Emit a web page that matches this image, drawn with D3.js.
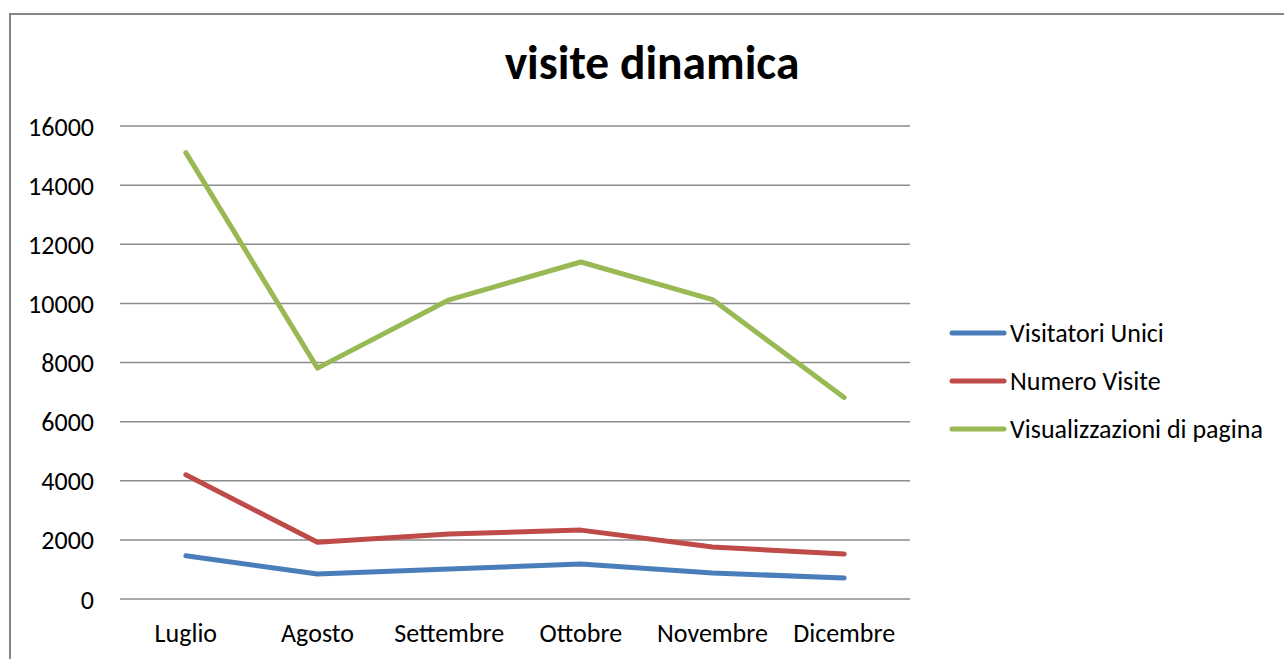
<!DOCTYPE html>
<html>
<head>
<meta charset="utf-8">
<script src="https://cdn.jsdelivr.net/npm/d3@7"></script>
<style>
  html, body { margin: 0; padding: 0; background: #fff; }
  svg { display: block; }
  text { font-family: Carlito, Calibri, Lato, "Open Sans", sans-serif; fill: #000; }
</style>
</head>
<body>
<svg id="chart" width="1284" height="659"></svg>
<script>
const title = "visite dinamica";
const categories = ["Luglio", "Agosto", "Settembre", "Ottobre", "Novembre", "Dicembre"];
const seriesNames = ["Visitatori Unici", "Numero Visite", "Visualizzazioni di pagina"];
const seriesColors = ["#4A7EBB", "#BE4B48", "#98B954"];
const visitatoriUnici = [1460, 845, 1015, 1180, 880, 710];
const numeroVisite = [4200, 1920, 2200, 2330, 1760, 1520];
const visualizzazioni = [15100, 7810, 10120, 11400, 10130, 6820];
const yTicks = [0, 2000, 4000, 6000, 8000, 10000, 12000, 14000, 16000];

const seriesValues = [visitatoriUnici, numeroVisite, visualizzazioni];

const svg = d3.select("#chart");

// outer frame
svg.append("rect")
  .attr("x", 10).attr("y", 14)
  .attr("width", 1290).attr("height", 660)
  .attr("fill", "none")
  .attr("stroke", "#868686")
  .attr("stroke-width", 2);

const plotLeft = 120, plotRight = 910, plotTop = 126, plotBottom = 599;

const x = d3.scaleBand().domain(categories).range([plotLeft, plotRight]).padding(0);
const y = d3.scaleLinear().domain([0, 16000]).range([plotBottom, plotTop]);

// gridlines
svg.append("g")
  .selectAll("line")
  .data(yTicks)
  .join("line")
  .attr("x1", plotLeft).attr("x2", plotRight)
  .attr("y1", d => y(d)).attr("y2", d => y(d))
  .attr("stroke", "#8c8c8c")
  .attr("stroke-width", 1.5);

// y axis labels
const yAxis = d3.axisLeft(y).tickValues(yTicks).tickSize(0).tickPadding(0).tickFormat(d3.format("d"));
const gy = svg.append("g").attr("transform", `translate(94,0)`).call(yAxis);
gy.select(".domain").remove();
gy.selectAll("text").style("font-size", "26px").attr("dy", "0.35em").style("fill", "#000");

// x axis labels
const xAxis = d3.axisBottom(x).tickSize(0).tickPadding(0);
const gx = svg.append("g").attr("transform", `translate(0,642)`).call(xAxis);
gx.select(".domain").remove();
gx.selectAll("text").style("font-size", "26px").attr("dy", "0").style("fill", "#000");

// lines
const line = d3.line()
  .x((d, i) => x(categories[i]) + x.bandwidth() / 2)
  .y(d => y(d));

svg.append("g")
  .selectAll("path")
  .data(seriesValues)
  .join("path")
  .attr("d", d => line(d))
  .attr("fill", "none")
  .attr("stroke", (d, i) => seriesColors[i])
  .attr("stroke-width", 5)
  .attr("stroke-linejoin", "round")
  .attr("stroke-linecap", "round");

// title
svg.append("text")
  .attr("x", 652).attr("y", 79)
  .attr("text-anchor", "middle")
  .style("font-size", "47.5px")
  .style("font-weight", "bold")
  .text(title);

// legend
const legendY = [333, 381, 429];
const lg = svg.append("g");
seriesNames.forEach((name, i) => {
  lg.append("line")
    .attr("x1", 952).attr("x2", 1004)
    .attr("y1", legendY[i]).attr("y2", legendY[i])
    .attr("stroke", seriesColors[i])
    .attr("stroke-width", 5)
    .attr("stroke-linecap", "round");
  lg.append("text")
    .attr("x", 1010).attr("y", legendY[i])
    .attr("dy", "0.35em")
    .style("font-size", "26px")
    .text(name);
});
</script>
</body>
</html>
